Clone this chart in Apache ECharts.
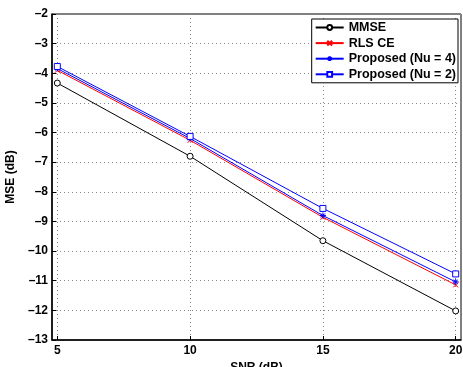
<!DOCTYPE html>
<html><head><meta charset="utf-8">
<script src="https://cdn.jsdelivr.net/npm/echarts@6/dist/echarts.min.js"></script>
<style>html,body{margin:0;padding:0;background:#fff}#c{width:463px;height:367px}</style>
</head><body><div id="c"></div>
<script>
const snr = [5, 10, 15, 20];
const xTicks = [5, 10, 15, 20];
const seriesNames = ['MMSE', 'RLS CE', 'Proposed (Nu = 4)', 'Proposed (Nu = 2)'];
const mmse = [-4.33, -6.80, -9.65, -12.02];
const rls = [-3.90, -6.26, -8.86, -11.14];
const prop4 = [-3.84, -6.20, -8.80, -11.04];
const prop2 = [-3.77, -6.13, -8.56, -10.77];

const font = '"Liberation Sans", Arial, sans-serif';
const xMark = 'path://M0,0L10,10M10,0L0,10';
const star = 'path://M5,0L5,10M0,5L10,5M1.5,1.5L8.5,8.5M8.5,1.5L1.5,8.5';
function pair(ys){ return snr.map((x,i)=>[x, ys[i]]); }
function mk(name, ys, color, symbol, size, fill){
  return {
    name, type:'line', data: pair(ys), symbol, symbolSize:size,
    lineStyle:{color, width:1}, itemStyle:{color: fill, borderColor: color, borderWidth:1},
    emphasis:{disabled:true}, animation:false, z: 3
  };
}
const gridLine = {show:true, lineStyle:{color:'#888', type:[1,3], width:1}};
const chart = echarts.init(document.getElementById('c'));
chart.setOption({
  animation:false,
  grid:{left:52, right:2, top:14, bottom:27, show:true, borderColor:'#000', borderWidth:1,
    outerBoundsMode:'none', containLabel:false},
  legend:{
    orient:'vertical', right:5, top:19, backgroundColor:'#fff', borderColor:'#000', borderWidth:1,
    padding:[2,2,2,3], itemGap:2.6, itemWidth:28, itemHeight:6,
    textStyle:{fontFamily:font, fontWeight:'bold', fontSize:12.5, color:'#000', lineHeight:13},
    data: seriesNames
  },
  xAxis:{
    type:'value', min:4.8, max:20.2,
    name:'SNR (dB)', nameLocation:'middle', nameGap:17,
    nameTextStyle:{fontFamily:font, fontWeight:'bold', fontSize:12, color:'#000'},
    axisLine:{lineStyle:{color:'#000', width:1.5}},
    axisTick:{inside:true, length:4, customValues:xTicks, lineStyle:{color:'#000'}},
    axisLabel:{customValues:xTicks, fontFamily:font, fontWeight:'bold', fontSize:12, color:'#000', margin:5},
    splitLine:gridLine
  },
  yAxis:{
    type:'value', min:-13, max:-2, interval:1,
    name:'MSE (dB)', nameLocation:'middle', nameGap:29, nameRotate:90,
    nameTextStyle:{fontFamily:font, fontWeight:'bold', fontSize:12, color:'#000'},
    axisLine:{lineStyle:{color:'#000', width:1.5}},
    axisTick:{inside:true, length:4, lineStyle:{color:'#000'}},
    axisLabel:{fontFamily:font, fontWeight:'bold', fontSize:12, color:'#000', margin:4,
      formatter:v=>String(v).replace('-', '\u2013')},
    splitLine:gridLine
  },
  series:[
    mk(seriesNames[0], mmse, '#000', 'circle', 6, '#fff'),
    mk(seriesNames[1], rls, '#ff0000', xMark, 5, 'none'),
    mk(seriesNames[2], prop4, '#0000ff', star, 6, 'none'),
    mk(seriesNames[3], prop2, '#0000ff', 'rect', 6, '#fff')
  ]
});
</script></body></html>
